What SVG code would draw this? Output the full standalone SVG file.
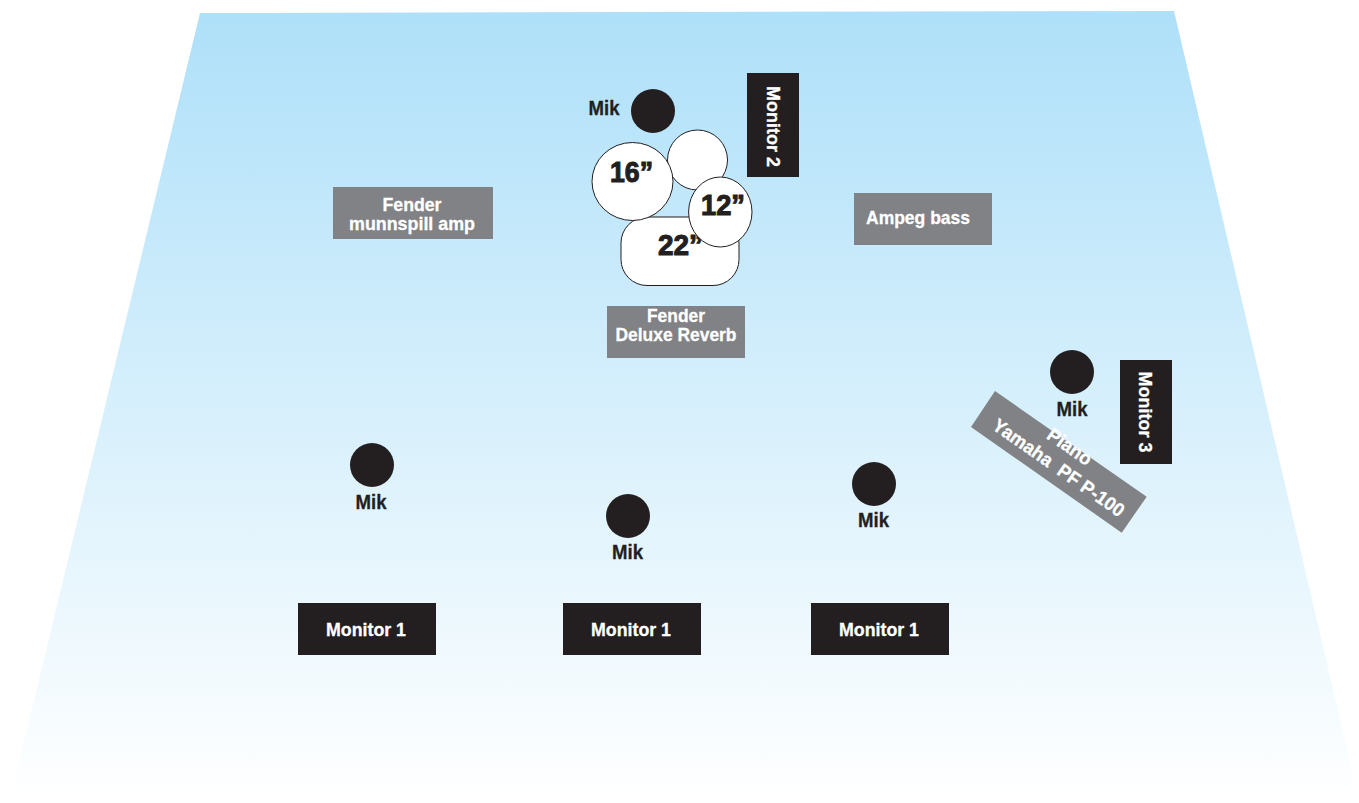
<svg xmlns="http://www.w3.org/2000/svg" width="1359" height="803" viewBox="0 0 1359 803">
<defs><linearGradient id="floor" x1="0" y1="0" x2="0" y2="1"><stop offset="0" stop-color="#aee0f9"/><stop offset="1" stop-color="#ffffff"/></linearGradient></defs>
<style>
text{font-family:"Liberation Sans",Arial,sans-serif;font-weight:700;text-anchor:middle}
.l{font-size:19px;fill:#fff;stroke:#fff;stroke-width:.3}
.m{font-size:20px;fill:#231f20;stroke:#231f20;stroke-width:.3}
.d{font-size:30px;fill:#231f20;stroke:#231f20;stroke-width:1.1}
.k{fill:#231f20}
.g{fill:#808285}
.w{fill:#fff;stroke:#231f20;stroke-width:1}
</style>
<rect width="1359" height="803" fill="#fff"/>
<path id="stage" d="M200 13L1174 11L1359 800L10 800Z" fill="url(#floor)"/>
<g id="connectors"/>
<g id="kick"><rect class="w" x="621" y="217" width="118" height="68.5" rx="26"/><text class="d" x="680.5" y="255" textLength="45" lengthAdjust="spacingAndGlyphs">22”</text></g>
<g id="tom-floor"><circle class="w" cx="697.5" cy="160" r="30"/></g>
<g id="tom-16"><ellipse class="w" cx="632.5" cy="181.5" rx="40.5" ry="39"/><text class="d" x="631.5" y="182" textLength="43" lengthAdjust="spacingAndGlyphs">16”</text></g>
<g id="tom-12"><ellipse class="w" cx="720.3" cy="212" rx="31.7" ry="35"/><text class="d" x="723" y="215" textLength="44" lengthAdjust="spacingAndGlyphs">12”</text></g>
<g id="mik-top"><circle class="k" cx="653" cy="111" r="22"/><text class="m" x="604" y="115" textLength="31" lengthAdjust="spacingAndGlyphs">Mik</text></g>
<g id="monitor-2"><rect class="k" x="747" y="73" width="52" height="104"/><text class="l" transform="translate(766.5 126.5) rotate(90)" textLength="81" lengthAdjust="spacingAndGlyphs">Monitor 2</text></g>
<g id="fender-munnspill"><rect class="g" x="333" y="187" width="160" height="52"/><text class="l" x="412" y="211" textLength="59" lengthAdjust="spacingAndGlyphs">Fender</text><text class="l" x="412" y="230" textLength="126" lengthAdjust="spacingAndGlyphs">munnspill amp</text></g>
<g id="ampeg"><rect class="g" x="854" y="193" width="138" height="52"/><text class="l" x="918" y="224" textLength="104" lengthAdjust="spacingAndGlyphs">Ampeg bass</text></g>
<g id="fender-deluxe"><rect class="g" x="607" y="306" width="138" height="52"/><text class="l" x="676" y="322" textLength="58" lengthAdjust="spacingAndGlyphs">Fender</text><text class="l" x="676" y="341" textLength="121" lengthAdjust="spacingAndGlyphs">Deluxe Reverb</text></g>
<g id="monitor-3"><rect class="k" x="1120" y="360" width="52" height="104"/><text class="l" transform="translate(1139 412) rotate(90)" textLength="81" lengthAdjust="spacingAndGlyphs">Monitor 3</text></g>
<g id="mik-right"><circle class="k" cx="1072" cy="372" r="22"/><text class="m" x="1072" y="416" textLength="31" lengthAdjust="spacingAndGlyphs">Mik</text></g>
<g id="piano"><path class="g" d="M995 391L1146.7 496.7L1121.7 532.7L971 427Z"/><text class="l" transform="translate(1066 452) rotate(35)" textLength="50" lengthAdjust="spacingAndGlyphs">Piano</text><text class="l" transform="translate(1055 473) rotate(35)" style="white-space:pre" textLength="156" lengthAdjust="spacingAndGlyphs">Yamaha  PF P-100</text></g>
<g id="mik-1"><circle class="k" cx="372" cy="465" r="22"/><text class="m" x="371" y="509" textLength="31" lengthAdjust="spacingAndGlyphs">Mik</text></g>
<g id="mik-2"><circle class="k" cx="628" cy="516" r="22"/><text class="m" x="627.5" y="559" textLength="31" lengthAdjust="spacingAndGlyphs">Mik</text></g>
<g id="mik-3"><circle class="k" cx="874" cy="484" r="22"/><text class="m" x="873.5" y="527" textLength="31" lengthAdjust="spacingAndGlyphs">Mik</text></g>
<g id="monitor-1a"><rect class="k" x="298" y="603" width="138" height="52"/><text class="l" x="366" y="636" textLength="80" lengthAdjust="spacingAndGlyphs">Monitor 1</text></g>
<g id="monitor-1b"><rect class="k" x="563" y="603" width="138" height="52"/><text class="l" x="631" y="636" textLength="80" lengthAdjust="spacingAndGlyphs">Monitor 1</text></g>
<g id="monitor-1c"><rect class="k" x="811" y="603" width="138" height="52"/><text class="l" x="879" y="636" textLength="80" lengthAdjust="spacingAndGlyphs">Monitor 1</text></g>
</svg>
